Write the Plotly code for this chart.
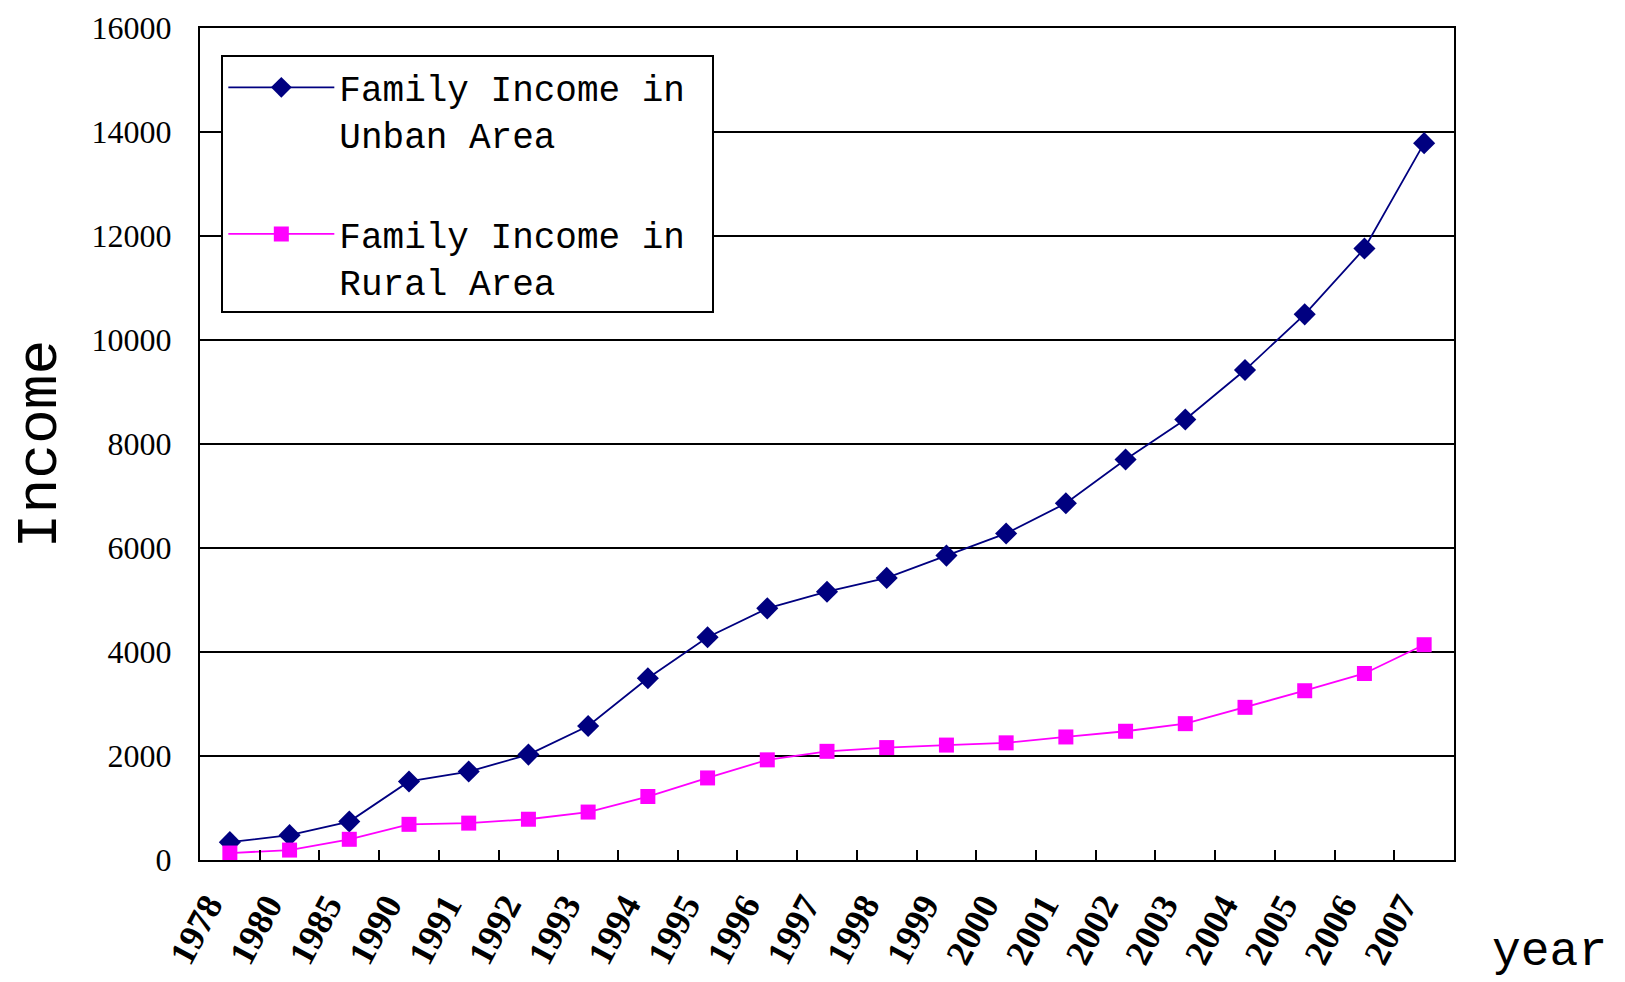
import plotly.graph_objects as go

years = ["1978", "1980", "1985", "1990", "1991", "1992", "1993", "1994", "1995", "1996",
         "1997", "1998", "1999", "2000", "2001", "2002", "2003", "2004", "2005", "2006", "2007"]
urban = [343, 478, 739, 1510, 1701, 2027, 2577, 3496, 4283, 4839,
         5160, 5425, 5854, 6280, 6860, 7703, 8472, 9422, 10493, 11759, 13786]
rural = [134, 191, 398, 686, 709, 784, 922, 1221, 1578, 1926,
         2090, 2162, 2210, 2253, 2366, 2476, 2622, 2936, 3255, 3587, 4140]
y_ticks = [0, 2000, 4000, 6000, 8000, 10000, 12000, 14000, 16000]
y_tick_text = ["0", "2000", "4000", "6000", "8000", "10000", "12000", "14000", "16000"]

fig = go.Figure()
fig.add_trace(go.Scatter(
    x=years, y=urban, mode="lines+markers",
    name="Family Income in&nbsp;<br>Unban Area", legendgroup="u",
    line=dict(color="#000080", width=1.8),
    marker=dict(symbol="diamond", size=17, color="#000080"),
))
fig.add_trace(go.Scatter(
    x=years, y=rural, mode="lines+markers",
    name="Family Income in&nbsp;<br>Rural Area", legendgroup="r",
    line=dict(color="#FF00FF", width=1.8),
    marker=dict(symbol="square", size=15, color="#FF00FF"),
))

fig.update_layout(
    width=1617, height=974,
    margin=dict(l=192, r=171, t=20, b=122),
    paper_bgcolor="white", plot_bgcolor="white",
    showlegend=True,
    legend=dict(
        x=0.017, y=0.967, xanchor="left", yanchor="top",
        bgcolor="white", bordercolor="black", borderwidth=2,
        font=dict(family="Liberation Mono", size=36, color="black"),
        tracegroupgap=50, itemwidth=106, valign="top",
    ),
    annotations=[dict(
        text="year", xref="paper", yref="paper", x=1.076, y=-0.11,
        xanchor="center", yanchor="middle", showarrow=False,
        font=dict(family="Liberation Mono", size=48, color="black"),
    )],
)

fig.update_xaxes(
    type="category", categoryorder="array", categoryarray=years,
    range=[-0.5, len(years) - 0.5],
    tickson="boundaries", ticks="inside", ticklen=10, tickwidth=2, tickcolor="black",
    showline=True, linecolor="black", linewidth=2, mirror=True,
    showgrid=False, tickangle=-62, automargin=False,
    tickfont=dict(family="Liberation Serif", size=36, color="black", weight="bold"),
    ticklabelstandoff=8, ticklabelshift=-22,
)
fig.update_yaxes(
    range=[0, 16000], tickvals=y_ticks, ticktext=y_tick_text,
    showgrid=True, gridcolor="black", gridwidth=2,
    showline=True, linecolor="black", linewidth=2, mirror=True,
    ticks="", zeroline=False, automargin=False, ticklabeloverflow="allow",
    tickfont=dict(family="Liberation Serif", size=32, color="black"),
    ticklabelstandoff=20,
    title=dict(text="Income", font=dict(family="Liberation Mono", size=58, color="black"), standoff=36),
)

fig.write_html("out.html")
